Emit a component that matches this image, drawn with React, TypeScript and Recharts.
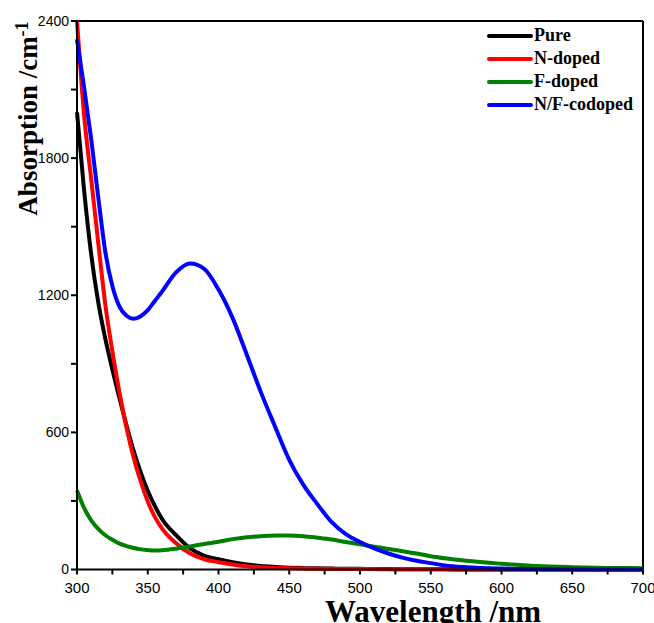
import { LineChart, Line, XAxis, YAxis, ReferenceLine } from "recharts";

const wavelengths = [
  300, 305, 310, 315, 320, 325, 330, 335, 340, 345, 350, 355, 360, 370, 380,
  390, 400, 410, 420, 430, 440, 450, 460, 470, 480, 490, 500, 510, 520, 530,
  540, 550, 560, 575, 600, 625, 650, 675, 700,
];

const pure = [
  2000, 1660, 1380, 1170, 1010, 875, 750, 630, 520, 425, 345, 278, 222, 150, 92,
  60, 45, 32, 22, 15, 11, 8, 6, 5, 4, 3, 3, 2, 2, 1, 1, 1, 1, 0, 0, 0, 0, 0, 0,
];

const nDoped = [
  2400, 1990, 1710, 1430, 1160, 955, 775, 620, 490, 385, 298, 230, 180, 115, 70,
  45, 32, 22, 14, 10, 7, 5, 4, 3, 3, 2, 2, 2, 1, 1, 1, 1, 1, 0, 0, 0, 0, 0, 0,
];

const fDoped = [
  346, 270, 215, 178, 150, 130, 113, 102, 94, 88, 85, 83, 84, 91, 101, 112, 121,
  133, 141, 146, 149, 149, 146, 139, 131, 120, 110, 100, 90, 80, 70, 58, 49, 38,
  25, 15, 10, 7, 6,
];

const nfCodoped = [
  2320, 2110, 1885, 1630, 1390, 1240, 1150, 1110, 1097, 1108, 1135, 1175, 1215,
  1300, 1339, 1315, 1225, 1100, 940, 775, 625, 480, 370, 285, 207, 155, 120, 92,
  70, 52, 38, 28, 18, 10, 4, 2, 1, 0, 0,
];

const xTicks = [
  300, 325, 350, 375, 400, 425, 450, 475, 500, 525, 550, 575, 600, 625, 650,
  675, 700,
];
const yTicks = [0, 300, 600, 900, 1200, 1500, 1800, 2100, 2400];

const series = [
  { key: "pure", name: "Pure", color: "#000000" },
  { key: "nDoped", name: "N-doped", color: "#ff0000" },
  { key: "fDoped", name: "F-doped", color: "#008000" },
  { key: "nfCodoped", name: "N/F-codoped", color: "#0000ff" },
];

const data = wavelengths.map((w, i) => ({
  w,
  pure: pure[i],
  nDoped: nDoped[i],
  fDoped: fDoped[i],
  nfCodoped: nfCodoped[i],
}));

const serif = "'Liberation Serif', 'Times New Roman', serif";
const sans = "'Liberation Sans', Arial, sans-serif";

function LegendBox() {
  return (
    <div style={{ position: "absolute", top: 24, left: 487 }}>
      {series.map((s) => (
        <div
          key={s.key}
          style={{ display: "flex", alignItems: "center", height: 23 }}
        >
          <div
            style={{
              width: 46,
              height: 4,
              background: s.color,
              borderRadius: 2,
              marginRight: 1,
            }}
          />
          <span
            style={{
              fontFamily: serif,
              fontWeight: "bold",
              fontSize: 18,
              color: "#000",
            }}
          >
            {s.name}
          </span>
        </div>
      ))}
    </div>
  );
}

export default function App() {
  return (
    <div style={{ position: "absolute", left: 0, top: 0, width: 654, height: 623, background: "#fff" }}>
      <LineChart
        width={654}
        height={623}
        data={data}
        margin={{ top: 21, right: 11, bottom: 23.5, left: 0 }}
      >
        <XAxis
          dataKey="w"
          type="number"
          domain={[300, 700]}
          ticks={xTicks}
          interval={0}
          tickFormatter={(v) => (v % 50 === 0 ? String(v) : "")}
          stroke="#000"
          strokeWidth={2}
          tickSize={5}
          tickMargin={8}
          height={30}
          tick={{ fontSize: 15, fill: "#000", fontFamily: sans }}
          label={{
            content: () => (
              <text
                x={325}
                y={622}
                fontFamily={serif}
                fontWeight="bold"
                fontSize={31}
                fill="#000"
              >
                Wavelength /nm
              </text>
            ),
          }}
        />
        <YAxis
          type="number"
          domain={[0, 2400]}
          ticks={yTicks}
          interval={0}
          tickFormatter={(v) => (v % 600 === 0 ? String(v) : "")}
          stroke="#000"
          strokeWidth={2}
          tickSize={6}
          tickMargin={2}
          width={77}
          tick={{ fontSize: 14, fill: "#000", fontFamily: sans }}
          label={{
            content: () => (
              <text
                x={37}
                y={118.5}
                transform="rotate(-90, 37, 118.5)"
                textAnchor="middle"
                fontFamily={serif}
                fontWeight="bold"
                fontSize={27}
                fill="#000"
              >
                <tspan>Absorption /cm</tspan>
                <tspan fontSize={18} dy={-9}>
                  -1
                </tspan>
              </text>
            ),
          }}
        />
        <ReferenceLine y={2400} stroke="#000" strokeWidth={2} />
        <ReferenceLine x={700} stroke="#000" strokeWidth={2} />
        {series.map((s) => (
          <Line
            key={s.key}
            type="monotone"
            dataKey={s.key}
            name={s.name}
            stroke={s.color}
            strokeWidth={4}
            dot={false}
            isAnimationActive={false}
          />
        ))}
      </LineChart>
      <LegendBox />
    </div>
  );
}
